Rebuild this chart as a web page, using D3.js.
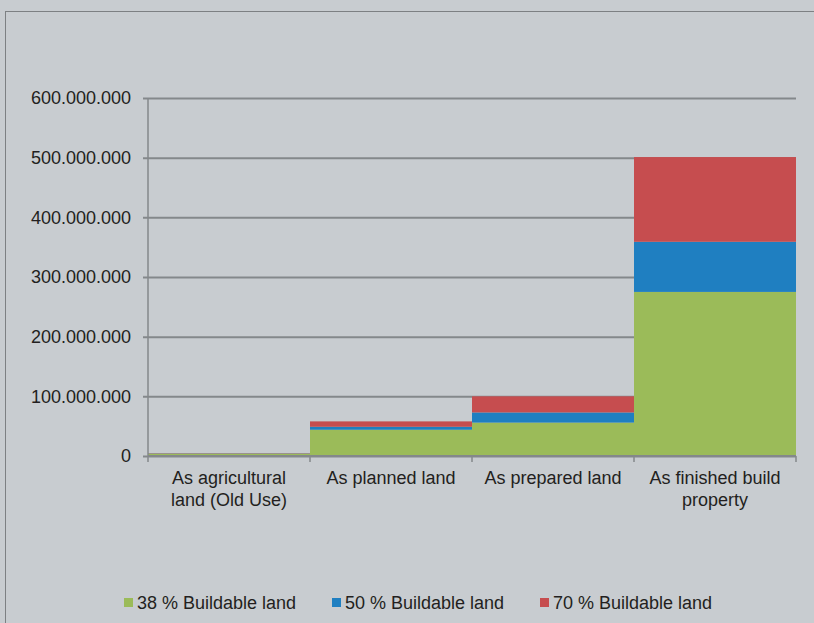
<!DOCTYPE html>
<html>
<head>
<meta charset="utf-8">
<script src="https://cdn.jsdelivr.net/npm/d3@7"></script>
<style>
  body { margin: 0; background: #c8ccd0; }
  svg text { font-family: "Liberation Sans", Arial, sans-serif; fill: #231f20; }
</style>
</head>
<body>
<div id="chart"></div>
<script>
// categories and stacked series
const categories = [
    ["As agricultural", "land (Old Use)"],
    ["As planned land"],
    ["As prepared land"],
    ["As finished build", "property"]
];
const seriesNames = ["38 % Buildable land", "50 % Buildable land", "70 % Buildable land"];
const green38 = [4000000, 44000000, 56000000, 275000000];
const blue50 = [500000, 5000000, 17000000, 84000000];
const red70 = [500000, 9000000, 27000000, 142000000];
const yTicks = [0, 100000000, 200000000, 300000000, 400000000, 500000000, 600000000];
const colors = ["#9bbb59", "#1f7fc1", "#c64d4f"];

const width = 814, height = 623;
const margin = { left: 148, right: 18, top: 98, bottom: 167 };

const svg = d3.select("#chart").append("svg")
    .attr("width", width)
    .attr("height", height);

// outer frame
svg.append("rect")
    .attr("x", 5.5).attr("y", 11.5)
    .attr("width", width).attr("height", height)
    .attr("fill", "#c8ccd0")
    .attr("stroke", "#7d8083");

const rows = categories.map((c, i) => ({
    key: i, s0: green38[i], s1: blue50[i], s2: red70[i]
}));

const x = d3.scaleBand()
    .domain(d3.range(categories.length))
    .range([margin.left, width - margin.right])
    .padding(0);

const y = d3.scaleLinear()
    .domain([0, 600000000])
    .range([height - margin.bottom, margin.top]);

const fmt = d => d3.format(",")(d).replace(/,/g, ".");

// gridlines + y labels
const yAxis = svg.append("g")
    .attr("transform", `translate(${margin.left},0)`)
    .call(d3.axisLeft(y).tickValues(yTicks).tickFormat(fmt)
        .tickSize(-(width - margin.left - margin.right)).tickPadding(17));
yAxis.select(".domain").remove();
yAxis.selectAll(".tick line")
    .attr("x1", -5)
    .attr("stroke", "#84888b")
    .attr("stroke-width", 2);
yAxis.selectAll(".tick text")
    .style("font-size", "18px")
    .attr("fill", "#231f20");

// stacked steps
const stack = d3.stack().keys(["s0", "s1", "s2"]);
const layers = stack(rows);

svg.append("g").selectAll("g")
    .data(layers)
    .join("g")
    .attr("fill", (d, i) => colors[i])
    .selectAll("rect")
    .data(d => d)
    .join("rect")
    .attr("x", d => x(d.data.key))
    .attr("width", x.bandwidth())
    .attr("y", d => y(d[1]))
    .attr("height", d => y(d[0]) - y(d[1]));

// left axis line
svg.append("line")
    .attr("x1", margin.left).attr("x2", margin.left)
    .attr("y1", y(600000000)).attr("y2", y(0))
    .attr("stroke", "#84888b").attr("stroke-width", 1.5);

// bottom axis with ticks at band boundaries
const bx = svg.append("g");
bx.append("line")
    .attr("x1", margin.left).attr("x2", width - margin.right)
    .attr("y1", y(0)).attr("y2", y(0))
    .attr("stroke", "#84888b").attr("stroke-width", 2);
const edges = d3.range(categories.length + 1).map(i =>
    i < categories.length ? x(i) : x(i - 1) + x.bandwidth());
bx.selectAll("line.tk")
    .data(edges)
    .join("line")
    .attr("class", "tk")
    .attr("x1", d => d).attr("x2", d => d)
    .attr("y1", y(0)).attr("y2", y(0) + 6)
    .attr("stroke", "#84888b").attr("stroke-width", 1.5);

// category labels
svg.append("g").selectAll("text")
    .data(categories)
    .join("text")
    .attr("text-anchor", "middle")
    .style("font-size", "18px")
    .attr("transform", (d, i) => `translate(${x(i) + x.bandwidth() / 2},${y(0) + 28})`)
    .selectAll("tspan")
    .data(d => d)
    .join("tspan")
    .attr("x", 0)
    .attr("y", (d, i) => i * 22)
    .text(d => d);

// legend
const legendX = [124, 332, 540];
const legend = svg.append("g").selectAll("g")
    .data(seriesNames)
    .join("g")
    .attr("transform", (d, i) => `translate(${legendX[i]},598)`);
legend.append("rect")
    .attr("width", 9).attr("height", 9)
    .attr("fill", (d, i) => colors[i]);
legend.append("text")
    .attr("x", 13).attr("y", 11)
    .style("font-size", "18px")
    .text(d => d);
</script>
</body>
</html>
